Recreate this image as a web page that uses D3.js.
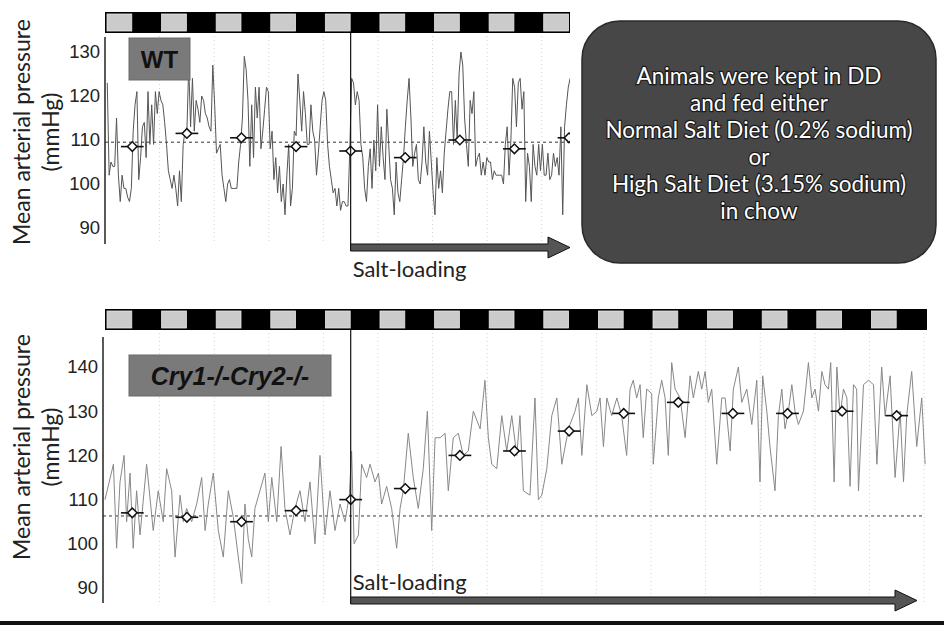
<!DOCTYPE html>
<html>
<head>
<meta charset="utf-8">
<script src="https://cdn.jsdelivr.net/npm/d3@7"></script>
<style>
body { margin:0; background:#fff; }
svg { display:block; font-family:"Liberation Sans", Arial, sans-serif; }
.cal { font-family:Lato, "Open Sans", sans-serif; }
</style>
</head>
<body>
<svg id="chart" width="944" height="625"></svg>
<script>
// --- WT, mean arterial pressure (mmHg), evenly spaced readings ---
const wtStart = 1, wtStep = 0.814;   // hours
const wtMAP = [
  123,102,105,104,104,115,102, 96,102, 99,
   99, 97, 96, 99,112,118,121,101,106,113,
  114,106,121,109,118,109,121,116,121,119,
  118,114,109,103,101, 99,102, 99, 95,103,
   96,109,112,112,127,113,124,112,119,117,
  114,120,119,116,115,113,112,127,118,107,
  108,109,102, 99, 96,100,101, 99, 99, 99,
   99,105,109,115,129,126,119,104,118,106,
  122,115,122,108,112,117,122,121,108,112,
  101,106, 98,104, 96,100, 93,102,109, 95,
   99,112,111,125,119,112,121,116,109,109,
  118,112,110,102,107,113,119,121,119,109,
  104,101, 98, 99, 95, 99, 94, 96, 96, 95,
   95,108,124,123,118,121,119,109,106, 99,
   96,104,108, 99,110,103,118,104,113,106,
  101,117,109,101, 99, 93,105, 98, 96,101,
  106,113,119,124,115,104,107,109,101,100,
  105,113,105,102,112,105, 98, 93,106, 99,
  103, 98,107,112,117,121,121,109,119,110,
  125,130,127,115,109,104,119,116,121,104,
  106,107,102,105,102,106,105,105,101,103,
  102,102,102,102,100,109,113,102,110,124,
  122,113,123,124,117,121, 96,107,104, 96,
  109,104,102,109,103,109,102,102,107,101,
  102,107,104,106,102,113, 93,113,118,122,
  124,125
];
const wtMeans = [108.5, 111.5, 110.5, 108.5, 107.5, 106, 110, 108, 110.5];
const wtRef = 109.5;

// --- Cry1-/-Cry2-/- ---
const cryHours = [
  0,3.7,5.1,6.6,8.4,9.5,11.0,12.4,13.9,15.4,
  18.3,21.2,23.4,25.6,27.1,29.3,30.8,33.0,34.4,35.9,
  38.1,40.3,42.5,44.0,45.4,47.6,49.8,52.0,54.2,56.4,
  58.6,60.1,61.5,63.0,64.5,65.9,68.1,70.3,71.8,73.3,
  75.5,77.4,79.1,81.3,83.5,85.7,87.9,90.1,92.3,94.5,
  96.7,98.9,101.1,103.3,105.5,107.4,108.4,109.5,111.4,112.8,
  115.0,116.5,118.7,120.2,121.6,123.8,126.0,128.2,129.7,131.1,
  133.3,135.5,137.7,139.9,141.7,143.6,145.1,147.3,149.5,150.9,
  153.1,155.3,157.5,159.7,161.9,164.9,167.0,168.5,170.0,172.2,
  174.4,176.6,178.8,181.0,182.4,183.9,186.8,189.0,190.5,192.0,
  194.2,196.4,198.6,200.8,203.0,204.4,206.6,208.1,209.6,211.8,
  214.0,216.2,217.6,219.1,220.6,222.7,225.0,227.1,229.3,230.8,
  232.2,233.7,235.2,236.6,238.1,240.3,241.0,243.2,244.7,246.2,
  247.6,249.1,250.6,252.8,255.0,257.2,258.6,260.8,262.3,263.8,
  265.2,266.7,268.9,271.1,272.6,274.8,276.2,278.4,279.9,282.1,
  284.3,286.5,287.9,289.1,290.9,292.3,294.5,296.0,297.5,298.9,
  300.4,301.9,303.3,304.8,307.0,309.2,310.7,312.1,313.6,315.1,
  316.5,318.0,319.0,320.5,321.7,323.1,324.6,326.1,327.5,329.0,
  330.4,331.2,333.4,335.6,337.8,339.3,341.4,342.9,345.1,347.3,
  349.5,351.0,352.4,354.6,356.8,359.0,360.5
];
const cryMAP = [
  110,118, 99,114,120,105,116, 99,112,102,
  118,103,112,105,117,112, 97,111,105,108,
  105,109,115,103,109,116,103, 97,112,106,
   97, 91,109,101, 97,108,112,116,105,115,
  105,122,108,102,108,112,105,114,100,120,
  102,112,103,109,105,111,121,100,102,118,
  115,118,114,116,109,113,108, 99,108,112,
  125,115,108,117,130,103,124,124,125,112,
  124,125,120,121,130,126,137,124,118,117,
  129,121,129,120,129,112,111,133,110,111,
  117,129,133,118,124,127,130,133,120,136,
  129,130,133,122,133,129,133,129,120,135,
  137,133,136,124,135,134,118,133,137,133,
  120,141,135,133,124,138,133,139,135,139,
  132,135,118,133,133,121,135,140,132,135,
  127,137,114,138,130,122,112,129,135,126,
  130,136,130,127,130,141,133,135,130,139,
  136,135,141,114,140,129,135,133,113,136,
  135,112,136,137,136,118,140,129,138,115,
  130,114,129,139,122,133,118
];
const cryMeans = [107, 106, 105, 107.5, 110, 112.5, 120, 121, 125.5, 129.5, 132, 129.5, 129.5, 130, 129];
const cryRef = 106.3;

const saltStart = 108;   // hours, onset of salt-loading
const wtTicks = [90, 100, 110, 120, 130];
const cryTicks = [90, 100, 110, 120, 130, 140];
const noteLines = ["Animals were kept in DD", "and fed either", "Normal Salt Diet (0.2% sodium)", "or", "High Salt Diet (3.15% sodium)", "in chow"];

const svg = d3.select("#chart");
svg.append("rect").attr("width", 944).attr("height", 625).attr("fill", "#fff");

function drawPanel(p) {
  const x = d3.scaleLinear().domain([0, p.days * 24]).range([p.left, p.right]);
  const y = d3.scaleLinear().domain(p.yDomain).range(p.yRange);
  const g = svg.append("g");
  const clipId = "clip" + p.id;

  g.append("clipPath").attr("id", clipId)
    .append("rect").attr("x", p.axisX).attr("y", p.axisTop)
    .attr("width", p.clipRight - p.axisX).attr("height", p.axisBottom - p.axisTop + 2);

  // light / dark bar
  g.append("rect").attr("x", p.left).attr("y", p.barY)
    .attr("width", p.barEnd - p.left).attr("height", 21).attr("fill", "#000");
  g.selectAll(".lp").data(d3.range(Math.ceil(p.days))).join("rect")
    .attr("x", d => x(d * 24) + 2).attr("y", p.barY + 2)
    .attr("width", d => x(d * 24 + 12) - x(d * 24) - 2.5).attr("height", 17)
    .attr("fill", "#cbcbcb").attr("stroke", "#e6e6e6").attr("stroke-width", 0.8);

  // faint day gridlines
  g.selectAll(".grid").data(d3.range(1, Math.floor(p.days) + 1)).join("line")
    .attr("x1", d => x(d * 24)).attr("x2", d => x(d * 24))
    .attr("y1", p.barY + 24).attr("y2", p.axisBottom)
    .attr("stroke", "#d0d0d0").attr("stroke-dasharray", "1,3");

  // reference level
  g.append("line").attr("x1", p.axisX).attr("x2", p.refEnd)
    .attr("y1", y(p.ref)).attr("y2", y(p.ref))
    .attr("stroke", "#333").attr("stroke-dasharray", "3,3");

  // trace
  g.append("path").datum(p.data)
    .attr("clip-path", "url(#" + clipId + ")")
    .attr("fill", "none").attr("stroke", p.lineColor).attr("stroke-width", 1)
    .attr("d", d3.line().x(d => x(d[0])).y(d => y(d[1])));

  // daily means
  const m = g.append("g").attr("clip-path", "url(#" + clipId + ")")
    .selectAll("g").data(p.means).join("g")
    .attr("transform", (d, i) => "translate(" + x(i * 24 + 12) + "," + y(d) + ")");
  m.append("line").attr("x1", x(0) - x(5)).attr("x2", x(5) - x(0))
    .attr("stroke", "#111").attr("stroke-width", 1.6);
  m.append("path").attr("d", d3.symbol(d3.symbolSquare, 46))
    .attr("transform", "rotate(45)")
    .attr("fill", "#fff").attr("stroke", "#111").attr("stroke-width", 1.5);

  // salt-loading onset and arrow
  const xs = x(saltStart);
  g.append("line").attr("x1", xs).attr("x2", xs)
    .attr("y1", p.barY + 21).attr("y2", p.arrowY + 3.5)
    .attr("stroke", "#111").attr("stroke-width", 1.2);
  const ay = p.arrowY, hx = p.arrowTip - 22;
  g.append("path")
    .attr("d", "M" + xs + "," + (ay - 3.5) + "H" + hx + "V" + (ay - 10.5) + "L" + p.arrowTip + "," + ay +
               "L" + hx + "," + (ay + 10.5) + "V" + (ay + 3.5) + "H" + xs + "Z")
    .attr("fill", "#555").attr("stroke", "#111").attr("stroke-width", 1);
  g.append("text").attr("class", "cal").attr("x", xs + 2).attr("y", p.saltY)
    .attr("font-size", 22).attr("fill", "#222").text("Salt-loading");

  // y axis
  const ax = g.append("g").attr("transform", "translate(" + p.axisX + ",0)")
    .call(d3.axisLeft(y).tickValues(p.ticks).tickSize(0).tickPadding(5));
  ax.select(".domain").remove();
  ax.selectAll("text").attr("font-size", 18.5).attr("fill", "#222")
    .attr("font-family", "'Liberation Sans', Arial, sans-serif");
  g.append("line").attr("x1", p.axisX).attr("x2", p.axisX)
    .attr("y1", p.axisTop).attr("y2", p.axisBottom)
    .attr("stroke", "#222").attr("stroke-width", 1.5);

  // y title
  [["Mean arterial pressure", 21], ["(mmHg)", 50]].forEach(t => {
    g.append("text").attr("class", "cal")
      .attr("transform", "translate(" + t[1] + "," + p.titleY + ") rotate(-90)")
      .attr("text-anchor", "middle").attr("dominant-baseline", "central")
      .attr("font-size", 23).attr("fill", "#222").text(t[0]);
  });

  // genotype label
  g.append("rect").attr("x", p.label.x).attr("y", p.label.y)
    .attr("width", p.label.w).attr("height", p.label.h)
    .attr("fill", "#7a7a7a").attr("stroke", "#6a6a6a");
  g.append("text").attr("x", p.label.x + p.label.w / 2).attr("y", p.label.y + p.label.h / 2)
    .attr("text-anchor", "middle").attr("dominant-baseline", "central")
    .attr("font-weight", "bold").attr("font-style", p.label.italic ? "italic" : "normal")
    .attr("font-size", p.label.size).attr("fill", "#111").text(p.label.text);
}

drawPanel({
  id: "wt", days: 8.5, left: 105, right: 569, barY: 12, barEnd: 570,
  axisX: 105, axisTop: 37, axisBottom: 244, clipRight: 570,
  yDomain: [90, 130], yRange: [228, 52], ticks: wtTicks,
  data: wtMAP.map((v, i) => [wtStart + i * wtStep, v]),
  means: wtMeans, ref: wtRef, refEnd: 570, lineColor: "#555",
  arrowY: 247.5, arrowTip: 570, saltY: 277, titleY: 132,
  label: { x: 129, y: 38, w: 61, h: 42, text: "WT", size: 24, italic: false }
});

drawPanel({
  id: "cry", days: 15, left: 105, right: 924, barY: 309, barEnd: 927,
  axisX: 103, axisTop: 337, axisBottom: 603, clipRight: 927,
  yDomain: [90, 140], yRange: [588, 367], ticks: cryTicks,
  data: cryHours.map((h, i) => [h, cryMAP[i]]),
  means: cryMeans, ref: cryRef, refEnd: 925, lineColor: "#888",
  arrowY: 600.5, arrowTip: 917, saltY: 590, titleY: 447,
  label: { x: 129, y: 355, w: 202, h: 41, text: "Cry1-/-Cry2-/-", size: 25, italic: true }
});

// note box
svg.append("rect").attr("x", 582).attr("y", 21).attr("width", 354).attr("height", 242)
  .attr("rx", 38).attr("fill", "#474747").attr("stroke", "#2a2a2a").attr("stroke-width", 1.5);
svg.append("g").selectAll("text").data(noteLines).join("text")
  .attr("class", "cal")
  .attr("x", 759).attr("y", (d, i) => 75 + i * 27)
  .attr("text-anchor", "middle").attr("dominant-baseline", "central")
  .attr("font-size", 22.5).attr("fill", "#fff")
  .attr("stroke", "#1a1a1a").attr("stroke-width", 2.4).attr("paint-order", "stroke")
  .text(d => d);

// bottom rule
svg.append("rect").attr("x", 0).attr("y", 621).attr("width", 944).attr("height", 4).attr("fill", "#111");
</script>
</body>
</html>
